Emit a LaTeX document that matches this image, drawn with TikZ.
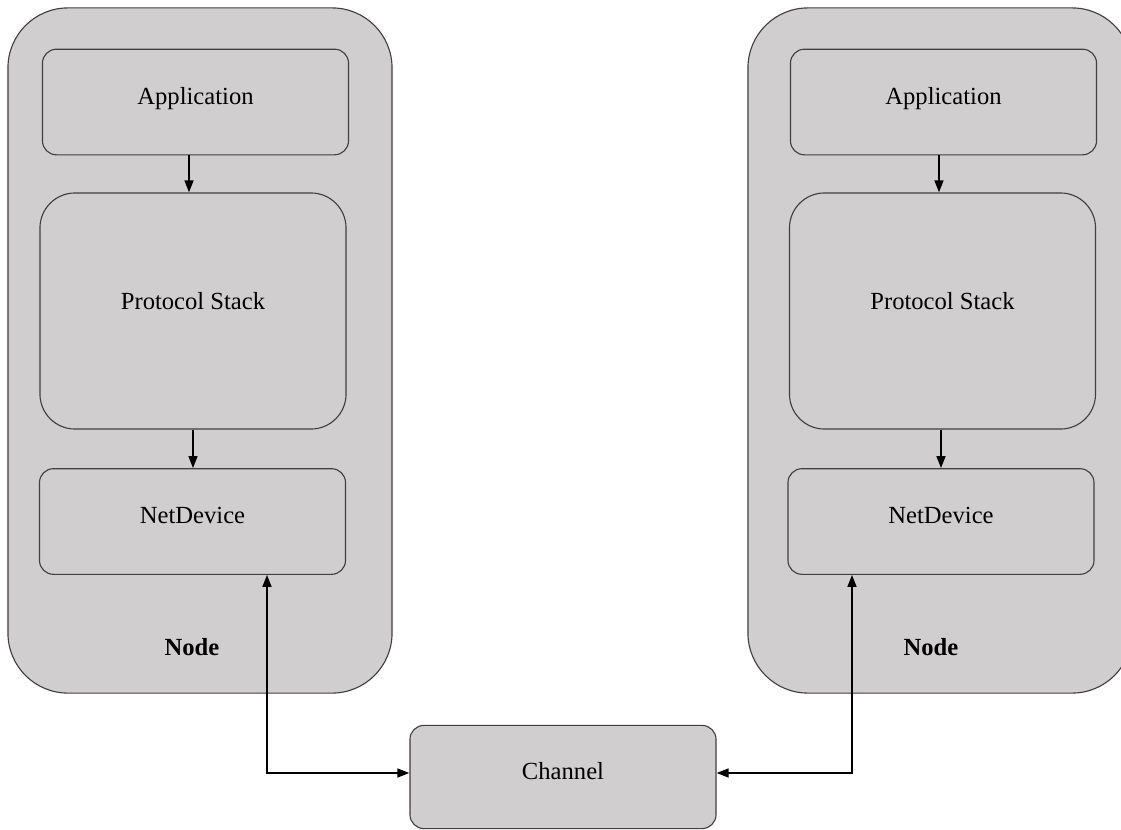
\documentclass[tikz,border=0pt]{standalone}
\usepackage{fontspec}
\setmainfont{Liberation Serif}
\usetikzlibrary{arrows.meta}
\definecolor{boxgray}{RGB}{208,206,207}
\definecolor{edgegray}{RGB}{64,64,64}

\begin{document}
\begin{tikzpicture}[x=0.025cm,y=-0.025cm,
  every node/.style={font=\fontsize{17.5}{21}\selectfont},
  host/.style={draw=edgegray,fill=boxgray,line width=0.8pt,rounded corners=1.5cm,
    minimum width=9.6cm,minimum height=17.125cm,inner sep=0pt},
  layer/.style={draw=edgegray,fill=boxgray,line width=0.8pt,rounded corners=0.35cm,
    minimum width=7.65cm,minimum height=2.64cm,inner sep=0pt,
    text height=0.45cm,text depth=0.35cm},
  stack/.style={layer,rounded corners=0.875cm,minimum height=5.9cm,text depth=0.55cm},
  hostname/.style={font=\fontsize{17.5}{21}\selectfont\bfseries},
  flow/.style={-{Triangle[length=0.3cm,width=0.22cm]},line width=1.5pt},
  link/.style={{Triangle[length=0.3cm,width=0.22cm]}-{Triangle[length=0.3cm,width=0.22cm]},line width=1.5pt}]
  \clip (0,0) rectangle (1121,830);

  % left node
  \node[host] (lhost) at (200,350.5) {};
  \node[layer] (lapp) at (195.5,102) {Application};
  \node[stack] (lps) at (193,311) {Protocol Stack};
  \node[layer] (lnd) at (192.5,521.5) {NetDevice};
  \node[hostname] (lname) at (192,647) {Node};

  % right node
  \node[host] (rhost) at (940,350.5) {};
  \node[layer] (rapp) at (943.5,102) {Application};
  \node[stack] (rps) at (942.5,311) {Protocol Stack};
  \node[layer] (rnd) at (941,521.5) {NetDevice};
  \node[hostname] (rname) at (931,647) {Node};

  \node[layer,minimum height=2.58cm] (chan) at (563,777) {Channel};

  \coordinate (ldown) at (189,0);
  \coordinate (rdown) at (939,0);
  \draw[flow] (lapp.south -| ldown) -- (lps.north -| ldown);
  \draw[flow] (lps.south) -- (lnd.north -| lps.south);
  \draw[flow] (rapp.south -| rdown) -- (rps.north -| rdown);
  \draw[flow] (rps.south -| rnd.north) -- (rnd.north);

  % links down to the channel
  \coordinate (lport) at (267,574);
  \coordinate (rport) at (852,574);
  \draw[link] (lnd.south -| lport) |- ([yshift=0.1cm]chan.west);
  \draw[link] (rnd.south -| rport) |- ([yshift=0.1cm]chan.east);
\end{tikzpicture}
\end{document}
